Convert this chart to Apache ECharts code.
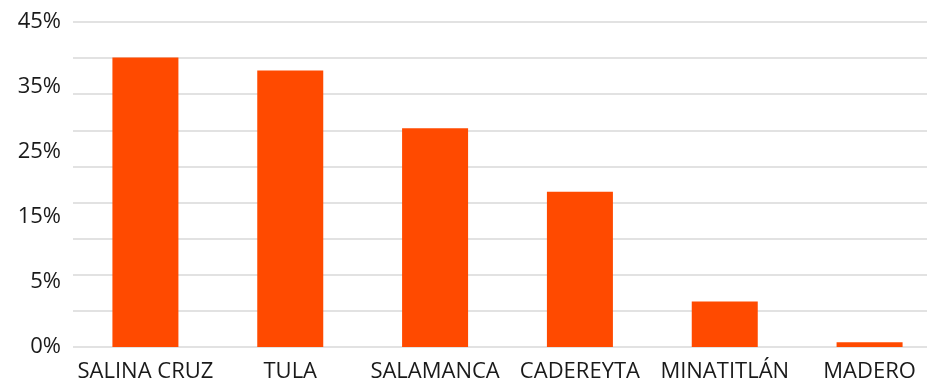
<!DOCTYPE html>
<html>
<head>
<meta charset="utf-8">
<script src="https://cdn.jsdelivr.net/npm/echarts@6/dist/echarts.min.js"></script>
<style>html,body{margin:0;padding:0;background:#fff;overflow:hidden}#c{width:942px;height:384px}</style>
</head>
<body>
<div id="c"></div>
<script>
const categories = ['SALINA CRUZ', 'TULA', 'SALAMANCA', 'CADEREYTA', 'MINATITLÁN', 'MADERO'];
const values = [40.1, 38.3, 30.3, 21.5, 6.3, 0.65];
// tick labels as printed on the reference, evenly spaced along the axis
const tickLabels = ['0%', '5%', '15%', '25%', '35%', '45%'];

const chart = echarts.init(document.getElementById('c'));
chart.setOption({
  animation: false,
  textStyle: { fontFamily: 'Open Sans' },
  grid: { left: 73, right: 0, top: 22, bottom: 37, containLabel: false },
  xAxis: {
    type: 'category',
    data: categories,
    axisLine: { show: false },
    axisTick: { show: false },
    axisLabel: { color: '#1a1a1a', fontSize: 22, margin: 14, interval: 0 }
  },
  yAxis: [{
    type: 'value',
    min: 0, max: 45, interval: 5,
    axisLine: { show: false },
    axisTick: { show: false },
    splitLine: { lineStyle: { color: '#d9d9d9', width: 1.5 } },
    axisLabel: { show: false }
  }, {
    type: 'value',
    position: 'left',
    min: 0, max: tickLabels.length - 1, interval: 1,
    axisLine: { show: false },
    axisTick: { show: false },
    splitLine: { show: false },
    axisLabel: {
      color: '#1a1a1a', fontSize: 22, margin: 12,
      formatter: v => tickLabels[Math.round(v)] || ''
    }
  }],
  series: [{
    type: 'bar',
    yAxisIndex: 0,
    data: values,
    barWidth: 66,
    itemStyle: { color: '#FF4A00' }
  }]
});
</script>
</body>
</html>
